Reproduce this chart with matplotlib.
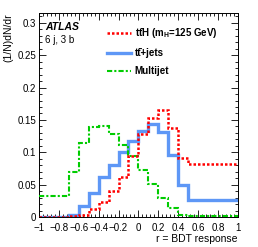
import matplotlib
matplotlib.use('Agg')
import matplotlib.pyplot as plt
from matplotlib.ticker import MultipleLocator

plt.rcParams['font.family'] = ['Liberation Sans', 'DejaVu Sans']
plt.rcParams['mathtext.fontset'] = 'custom'
plt.rcParams['mathtext.rm'] = 'Liberation Sans:bold'
plt.rcParams['mathtext.bf'] = 'Liberation Sans:bold'
plt.rcParams['mathtext.it'] = 'Liberation Sans:bold:italic'

# bin edges of r = BDT response
edges = [-1.0, -0.7, -0.6, -0.5, -0.4, -0.3, -0.2, -0.1, 0.0, 0.1, 0.2, 0.3, 0.4, 0.5, 1.0]

# (1/N) dN/dr per bin
tth = [0.0, 0.001, 0.004, 0.013, 0.024, 0.041, 0.062, 0.094, 0.129, 0.153, 0.165, 0.138, 0.092, 0.0816]
ttjets = [0.0, 0.003, 0.017, 0.037, 0.062, 0.081, 0.100, 0.117, 0.133, 0.143, 0.1316, 0.0955, 0.050, 0.026]
multijet = [0.032, 0.070, 0.1145, 0.139, 0.141, 0.129, 0.112, 0.094, 0.073, 0.0506, 0.029, 0.014, 0.0026, 0.001]

labels = ['tt\u0304H (m$_{\\mathrm{H}}$=125 GeV)', 'tt\u0304+jets', 'Multijet']

xticks = [-1, -0.8, -0.6, -0.4, -0.2, 0, 0.2, 0.4, 0.6, 0.8, 1]
xticklabels = ['\u22121', '\u22120.8', '\u22120.6', '\u22120.4', '\u22120.2', '0', '0.2', '0.4', '0.6', '0.8', '1']
yticks = [0, 0.05, 0.1, 0.15, 0.2, 0.25, 0.3]
yticklabels = ['0', '0.05', '0.1', '0.15', '0.2', '0.25', '0.3']

fig = plt.figure(figsize=(2.58, 2.47), dpi=100)
ax = fig.add_axes([0.151, 0.121, 0.771, 0.826])

h_b = ax.stairs(ttjets, edges, baseline=None, color='#5e97f6', linewidth=2.4, zorder=2)
h_g = ax.stairs(multijet, edges, baseline=None, color='#00cc00', linewidth=1.5,
                linestyle=(0, (2.5, 1, 1, 1)), zorder=3)
h_r = ax.stairs(tth, edges, baseline=None, color='#ff0000', linewidth=1.8,
                linestyle=(0, (1, 0.8)), zorder=4)

ax.set_xlim(-1, 1)
ax.set_ylim(0, 0.315)
ax.set_xticks(xticks)
ax.set_xticklabels(xticklabels)
ax.set_yticks(yticks)
ax.set_yticklabels(yticklabels)
ax.xaxis.set_minor_locator(MultipleLocator(0.04))
ax.yaxis.set_minor_locator(MultipleLocator(0.01))
ax.tick_params(which='both', direction='in', top=True, right=True, labelsize=7)
ax.tick_params(axis='x', pad=4)
ax.tick_params(axis='y', pad=2)
ax.tick_params(which='major', length=5, width=0.6)
ax.tick_params(which='minor', length=2.5, width=0.6)
for s in ax.spines.values():
    s.set_linewidth(0.7)

ax.set_ylabel('(1/N)dN/dr', fontsize=7.5, loc='top', labelpad=3)
ax.set_xlabel('r = BDT response', fontsize=7.5, loc='right', labelpad=1)

ax.text(0.03, 0.955, 'ATLAS', transform=ax.transAxes, fontsize=7.5,
        fontweight='bold', fontstyle='italic', va='top')
ax.text(0.03, 0.895, '6 j, 3 b', transform=ax.transAxes, fontsize=7, va='top')

leg = ax.legend([h_r, h_b, h_g], labels,
                loc='upper left', bbox_to_anchor=(0.3, 0.98), frameon=False,
                handlelength=2.4, handletextpad=0.4, labelspacing=0.85,
                prop={'weight': 'bold', 'size': 7})

fig.savefig('out.png', dpi=100)
